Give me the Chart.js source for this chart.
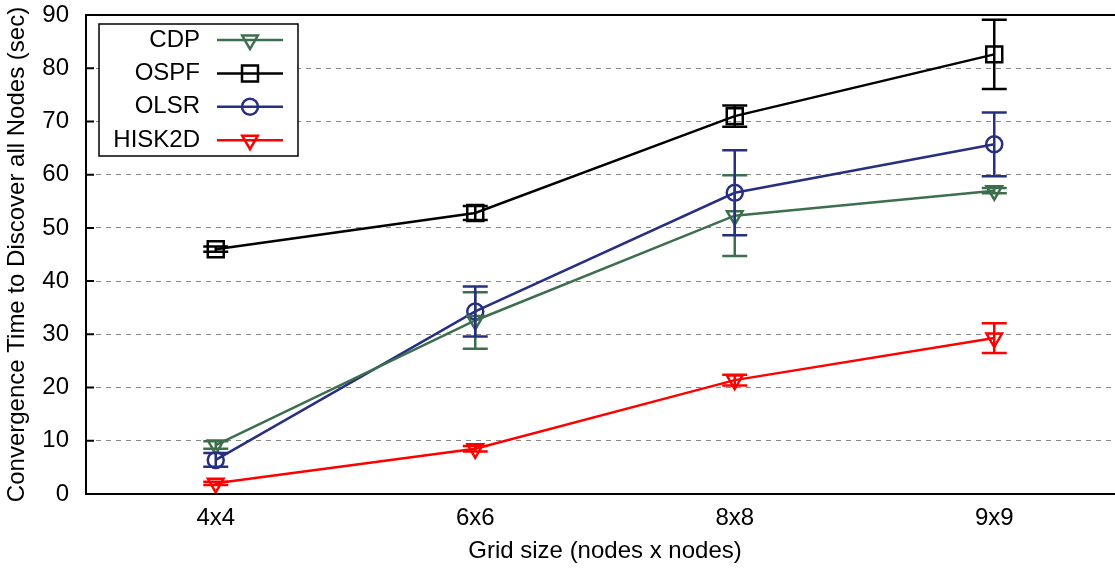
<!DOCTYPE html>
<html>
<head>
<meta charset="utf-8">
<script src="https://cdn.jsdelivr.net/npm/chart.js@4.4.0/dist/chart.umd.min.js"></script>
<style>
  html, body { margin: 0; padding: 0; background: #fff; overflow: hidden; }
  #wrap { width: 1115px; height: 570px; overflow: hidden; }
</style>
</head>
<body>
<div id="wrap"><canvas id="chart" width="1124" height="570"></canvas></div>
<script>
const grids = ['4x4', '6x6', '8x8', '9x9'];
const cdp = [9.2, 32.6, 52.3, 57.0];
const cdpErr = [0.7, 5.3, 7.6, 0.5];
const ospf = [46.0, 52.8, 71.0, 82.6];
const ospfErr = [0.5, 1.3, 2.0, 6.5];
const olsr = [6.4, 34.3, 56.6, 65.7];
const olsrErr = [1.3, 4.7, 8.0, 6.0];
const hisk = [2.0, 8.5, 21.4, 29.3];
const hiskErr = [0.3, 0.5, 1.0, 2.8];
const yTicks = [0, 10, 20, 30, 40, 50, 60, 70, 80, 90];

const FONT = '"Liberation Sans", Arial, Helvetica, sans-serif';

// error bars with caps
const errorBars = {
    id: 'errorBars',
    afterDatasetsDraw(chart) {
        const ctx = chart.ctx;
        const y = chart.scales.y;
        chart.data.datasets.forEach((ds, i) => {
            const meta = chart.getDatasetMeta(i);
            ctx.save();
            ctx.strokeStyle = ds.borderColor;
            ctx.lineWidth = 2.5;
            meta.data.forEach((pt, j) => {
                const e = ds.errors[j];
                const v = ds.data[j];
                const top = y.getPixelForValue(v + e);
                const bot = y.getPixelForValue(v - e);
                ctx.beginPath();
                ctx.moveTo(pt.x, top); ctx.lineTo(pt.x, bot);
                ctx.moveTo(pt.x - 12.5, top); ctx.lineTo(pt.x + 12.5, top);
                ctx.moveTo(pt.x - 12.5, bot); ctx.lineTo(pt.x + 12.5, bot);
                ctx.stroke();
            });
            ctx.restore();
        });
    }
};

// frame, inward ticks and the boxed legend
const frame = {
    id: 'frame',
    afterDraw(chart) {
        const ctx = chart.ctx;
        const a = chart.chartArea;
        const y = chart.scales.y;
        ctx.save();
        ctx.strokeStyle = '#000';
        ctx.lineWidth = 2;
        ctx.strokeRect(a.left, a.top, a.right - a.left, a.bottom - a.top);
        ctx.beginPath();
        yTicks.forEach(t => {
            const py = y.getPixelForValue(t);
            ctx.moveTo(a.left, py); ctx.lineTo(a.left + 8, py);
        });
        ctx.stroke();

        // legend
        const bx = 99, by = 24, bw = 199, bh = 132;
        ctx.fillStyle = '#fff';
        ctx.fillRect(bx, by, bw, bh);
        ctx.lineWidth = 1.5;
        ctx.strokeRect(bx, by, bw, bh);
        ctx.font = '24px ' + FONT;
        ctx.textAlign = 'right';
        ctx.textBaseline = 'middle';
        chart.data.datasets.forEach((ds, i) => {
            const ly = 40 + i * 33.4;
            ctx.fillStyle = '#000';
            ctx.fillText(ds.label, 200, ly);
            ctx.strokeStyle = ds.borderColor;
            ctx.lineWidth = 2.5;
            ctx.beginPath();
            ctx.moveTo(217, ly); ctx.lineTo(283, ly);
            ctx.stroke();
            ctx.fillStyle = 'rgba(0,0,0,0)';
            Chart.helpers.drawPoint(ctx, {
                pointStyle: ds.pointStyle,
                radius: ds.pointRadius,
                rotation: ds.pointRotation || 0,
                borderWidth: 2.5
            }, 250, ly);
        });
        ctx.restore();
    }
};

function series(label, data, errors, color, style, radius, rotation) {
    return {
        label: label,
        data: data,
        errors: errors,
        borderColor: color,
        backgroundColor: 'rgba(0,0,0,0)',
        borderWidth: 2.5,
        pointStyle: style,
        pointRadius: radius,
        pointRotation: rotation,
        pointBorderWidth: 2.5,
        pointBorderColor: color,
        pointBackgroundColor: 'rgba(0,0,0,0)',
        tension: 0,
        fill: false
    };
}

new Chart(document.getElementById('chart').getContext('2d'), {
    type: 'line',
    data: {
        labels: grids,
        datasets: [
            series('CDP', cdp, cdpErr, '#3d6f4e', 'triangle', 9, 180),
            series('OSPF', ospf, ospfErr, '#000000', 'rect', 11.3, 0),
            series('OLSR', olsr, olsrErr, '#262f80', 'circle', 8, 0),
            series('HISK2D', hisk, hiskErr, '#ff0000', 'triangle', 9, 180)
        ]
    },
    options: {
        responsive: false,
        animation: false,
        layout: { autoPadding: false, padding: { top: 0, right: 0, left: 0, bottom: 0 } },
        plugins: {
            legend: { display: false },
            tooltip: { enabled: false }
        },
        scales: {
            x: {
                offset: true,
                grid: { display: false, drawTicks: false },
                border: { display: false },
                ticks: { color: '#000', font: { family: FONT, size: 24 }, padding: 10 },
                title: {
                    display: true,
                    text: 'Grid size (nodes x nodes)',
                    color: '#000',
                    font: { family: FONT, size: 24 },
                    padding: { top: 4, bottom: 4 }
                },
                afterFit(s) { s.height = 76; }
            },
            y: {
                min: 0,
                max: 90,
                afterBuildTicks(s) { s.ticks = yTicks.map(v => ({ value: v })); },
                grid: { color: '#888', drawTicks: false, lineWidth: 1 },
                border: { display: false, dash: [5, 5] },
                ticks: { color: '#000', font: { family: FONT, size: 24 }, padding: 17 },
                title: {
                    display: true,
                    text: 'Convergence Time to Discover all Nodes (sec)',
                    color: '#000',
                    font: { family: FONT, size: 24 },
                    padding: { top: 3, bottom: 4 }
                },
                afterFit(s) {
                    s.width = 86;
                    s.paddingTop = 15;
                    s.paddingBottom = 0;
                }
            }
        }
    },
    plugins: [errorBars, frame]
});
</script>
</body>
</html>
